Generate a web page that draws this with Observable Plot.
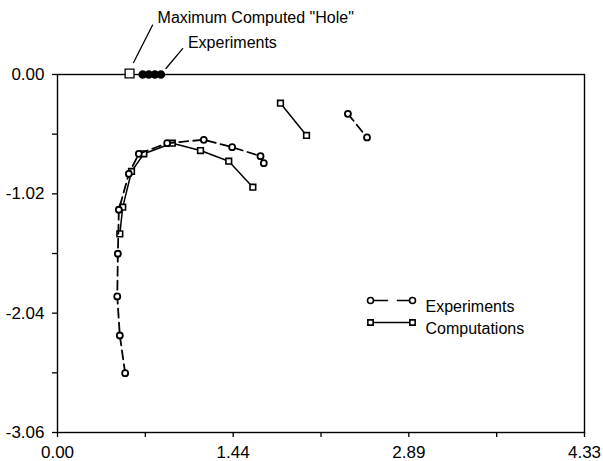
<!DOCTYPE html>
<html>
<head>
<meta charset="utf-8">
<script src="https://cdn.jsdelivr.net/npm/d3@7"></script>
<script src="https://cdn.jsdelivr.net/npm/@observablehq/plot@0.6"></script>
<style>
  html, body { margin: 0; padding: 0; background: #fff; }
</style>
</head>
<body>
<div id="chart"></div>
<script>
// ---- data ----
const expArcX = [0.556, 0.512, 0.491, 0.496, 0.504, 0.586, 0.668, 0.901, 1.202, 1.435, 1.668, 1.695];
const expArcY = [-2.553, -2.231, -1.897, -1.532, -1.156, -0.849, -0.678, -0.587, -0.558, -0.621, -0.698, -0.758];
const compArcX = [0.512, 0.536, 0.608, 0.709, 0.943, 1.175, 1.407, 1.605];
const compArcY = [-1.362, -1.134, -0.829, -0.678, -0.587, -0.650, -0.741, -0.963];
const compSegX = [1.832, 2.046];
const compSegY = [-0.245, -0.521];
const expSegX = [2.386, 2.543];
const expSegY = [-0.336, -0.538];
const holeX = [0.592];
const holeY = [0];
const expZeroX = [0.70, 0.75, 0.80, 0.85];
const expZeroY = [0, 0, 0, 0];

const xTickLabels = ["0.00", "1.44", "2.89", "4.33"];
const yTickLabels = ["0.00", "-1.02", "-2.04", "-3.06"];
const legendLabels = ["Experiments", "Computations"];
const annotationLabels = ["Maximum Computed \"Hole\"", "Experiments"];

// ---- tables ----
const zip = (xs, ys, g) => xs.map((x, i) => ({x, y: ys[i], g}));
const expRows = [...zip(expArcX, expArcY, "arc"), ...zip(expSegX, expSegY, "seg")];
const compRows = [...zip(compArcX, compArcY, "arc"), ...zip(compSegX, compSegY, "seg")];
const holeRows = zip(holeX, holeY, "hole");
const zeroRows = zip(expZeroX, expZeroY, "zero");

const xMax = 4.33, yMin = -3.06;
const xTicks = d3.range(7).map(i => i * xMax / 6);
const yTicks = d3.range(7).map(i => i * yMin / 6);

const lineShape = {draw(ctx, l) { ctx.moveTo(0, 0); ctx.lineTo(0, -l); }};
const font = "'Liberation Sans', Arial, Helvetica, sans-serif";
const ink = "#000";

const chart = Plot.plot({
  width: 603,
  height: 461,
  marginLeft: 57,
  marginRight: 19,
  marginTop: 74,
  marginBottom: 29,
  style: {fontFamily: font, fontSize: "16px", background: "#fff", color: ink, overflow: "visible"},
  x: {domain: [0, xMax]},
  y: {domain: [yMin, 0]},
  marks: [
    Plot.frame({stroke: ink, strokeWidth: 1.4}),
    Plot.axisX({
      ticks: xTicks, tickSize: 5, tickPadding: 8, fontSize: 17,
      tickFormat: (d, i) => (i % 2 === 0 ? xTickLabels[i / 2] : ""),
      label: null, strokeWidth: 1.3
    }),
    Plot.axisY({
      ticks: yTicks, tickSize: 5, tickPadding: 8, fontSize: 17,
      tickFormat: (d, i) => (i % 2 === 0 ? yTickLabels[i / 2] : ""),
      label: null, strokeWidth: 1.3
    }),
    // computations
    Plot.line(compRows, {x: "x", y: "y", z: "g", stroke: ink, strokeWidth: 1.5}),
    Plot.dot(compRows, {x: "x", y: "y", symbol: "square", r: 3.2, stroke: ink, fill: "#fff", strokeWidth: 1.6}),
    // experiments
    Plot.line(expRows, {x: "x", y: "y", z: "g", stroke: ink, strokeWidth: 1.8, strokeDasharray: "9,5"}),
    Plot.dot(expRows, {x: "x", y: "y", symbol: "circle", r: 3, stroke: ink, fill: "#fff", strokeWidth: 1.8}),
    // points on the zero line
    Plot.dot(zeroRows, {x: "x", y: "y", r: 3.5, fill: ink, stroke: ink}),
    Plot.dot(holeRows, {x: "x", y: "y", symbol: "square", r: 5, fill: "#fff", stroke: ink, strokeWidth: 1.3, dy: -1}),
    // annotations
    Plot.vector(holeRows, {x: "x", y: "y", dx: 4, dy: -12, length: 42, rotate: 27, anchor: "start", shape: lineShape, stroke: ink, strokeWidth: 1.3}),
    Plot.text(holeRows, {x: "x", y: "y", text: () => annotationLabels[0], dx: 28, dy: -57, textAnchor: "start", fontSize: 16, fill: ink}),
    Plot.vector(zeroRows.slice(-1), {x: "x", y: "y", dx: 5, dy: -6, length: 26, rotate: 40, anchor: "start", shape: lineShape, stroke: ink, strokeWidth: 1.3}),
    Plot.text(zeroRows.slice(-1), {x: "x", y: "y", text: () => annotationLabels[1], dx: 27, dy: -32, textAnchor: "start", fontSize: 16, fill: ink}),
    // legend (inside the frame, placed in pixels from the frame's top-left corner)
    Plot.vector([0], {frameAnchor: "top-left", dx: 313, dy: 226, length: 42, rotate: 90, anchor: "start", shape: lineShape, stroke: ink, strokeWidth: 1.6, strokeDasharray: "17,10"}),
    Plot.dot([0], {frameAnchor: "top-left", dx: 313, dy: 226, r: 3, stroke: ink, fill: "#fff", strokeWidth: 1.6}),
    Plot.dot([0], {frameAnchor: "top-left", dx: 355, dy: 226, r: 3, stroke: ink, fill: "#fff", strokeWidth: 1.6}),
    Plot.text([legendLabels[0]], {frameAnchor: "top-left", dx: 368, dy: 226, text: d => d, textAnchor: "start", fontSize: 16, fill: ink}),
    Plot.vector([0], {frameAnchor: "top-left", dx: 313, dy: 248, length: 42, rotate: 90, anchor: "start", shape: lineShape, stroke: ink, strokeWidth: 1.3}),
    Plot.dot([0], {frameAnchor: "top-left", dx: 313, dy: 248, symbol: "square", r: 3, stroke: ink, fill: "#fff", strokeWidth: 1.6}),
    Plot.dot([0], {frameAnchor: "top-left", dx: 355, dy: 248, symbol: "square", r: 3, stroke: ink, fill: "#fff", strokeWidth: 1.6}),
    Plot.text([legendLabels[1]], {frameAnchor: "top-left", dx: 368, dy: 248, text: d => d, textAnchor: "start", fontSize: 16, fill: ink})
  ]
});

document.getElementById("chart").appendChild(chart);
</script>
</body>
</html>
